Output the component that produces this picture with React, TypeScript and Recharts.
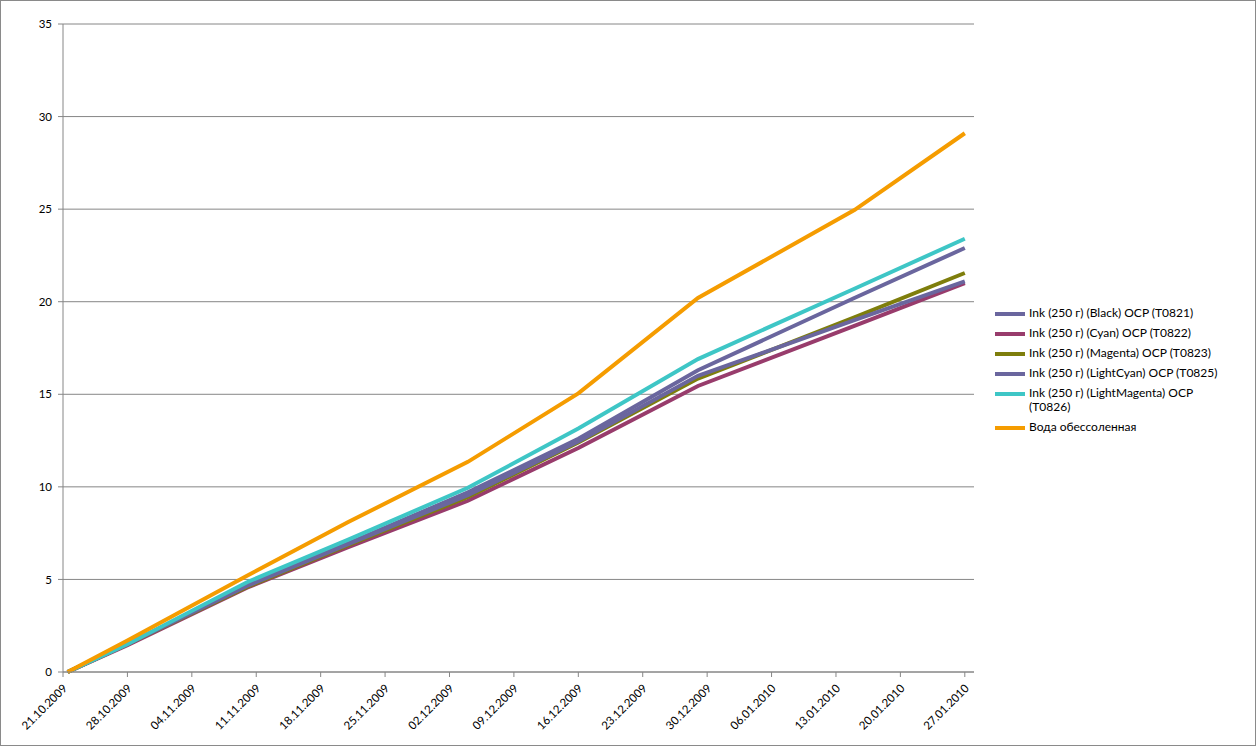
import { LineChart, Line, XAxis, YAxis, CartesianGrid } from "recharts";

// days since 21.10.2009
const days = [0.5, 7, 20, 31, 44, 56, 69, 86, 98];
const black = [0, 1.5, 4.7, 6.95, 9.7, 12.6, 16.3, 20.2, 22.9];
const cyan = [0, 1.45, 4.55, 6.75, 9.25, 12.1, 15.45, 18.7, 21.0];
const magenta = [0, 1.5, 4.6, 6.85, 9.45, 12.4, 15.85, 19.15, 21.55];
const lightCyan = [0, 1.5, 4.65, 6.9, 9.55, 12.45, 16.0, 19.0, 21.1];
const lightMagenta = [0, 1.5, 4.85, 7.15, 9.95, 13.15, 16.9, 20.7, 23.4];
const water = [0, 1.7, 5.2, 8.1, 11.35, 15.05, 20.2, 24.95, 29.1];

const xTicks = [0, 7, 14, 21, 28, 35, 42, 49, 56, 63, 70, 77, 84, 91, 98];
const xLabels = [
  "21.10.2009", "28.10.2009", "04.11.2009", "11.11.2009", "18.11.2009",
  "25.11.2009", "02.12.2009", "09.12.2009", "16.12.2009", "23.12.2009",
  "30.12.2009", "06.01.2010", "13.01.2010", "20.01.2010", "27.01.2010",
];
const yTicks = [0, 5, 10, 15, 20, 25, 30, 35];

const series = [
  { key: "black", name: "Ink (250 г) (Black) OCP (T0821)", color: "#6a669e" },
  { key: "cyan", name: "Ink (250 г) (Cyan) OCP (T0822)", color: "#983c6c" },
  { key: "magenta", name: "Ink (250 г) (Magenta) OCP (T0823)", color: "#7e7e0c" },
  { key: "lightCyan", name: "Ink (250 г) (LightCyan) OCP (T0825)", color: "#6a669e" },
  { key: "lightMagenta", name: "Ink (250 г) (LightMagenta) OCP (T0826)", color: "#3ec6c6" },
  { key: "water", name: "Вода обессоленная", color: "#f59c00" },
];

const data = days.map((d, i) => ({
  day: d,
  black: black[i],
  cyan: cyan[i],
  magenta: magenta[i],
  lightCyan: lightCyan[i],
  lightMagenta: lightMagenta[i],
  water: water[i],
}));

const FONT = "Lato, 'Liberation Sans', sans-serif";

const DateTick = ({ x, y, payload }: any) => {
  const label = xLabels[xTicks.indexOf(payload.value)] ?? "";
  return (
    <text
      x={x + 5}
      y={y + 10}
      textAnchor="end"
      fontSize={11.5}
      fontFamily={FONT}
      fill="#000"
      transform={`rotate(-45, ${x + 5}, ${y + 10})`}
    >
      {label}
    </text>
  );
};

export default function App() {
  return (
    <div
      style={{
        position: "absolute", left: 0, top: 0, width: 1256, height: 746,
        border: "1px solid #8a8a8a", boxSizing: "border-box", background: "#fff",
      }}
    >
      <LineChart
        width={1254}
        height={744}
        data={data}
        margin={{ top: 23, right: 281, bottom: 0, left: 0 }}
      >
        <CartesianGrid vertical={false} stroke="#868686" strokeWidth={1} />
        <XAxis
          dataKey="day"
          type="number"
          domain={[0, 99]}
          ticks={xTicks}
          interval={0}
          height={73}
          tick={<DateTick />}
          tickSize={5}
          stroke="#868686"
          allowDataOverflow
        />
        <YAxis
          domain={[0, 35]}
          ticks={yTicks}
          width={62}
          tickSize={5}
          tickMargin={6}
          stroke="#868686"
          tick={{ fontSize: 11.5, fill: "#000", fontFamily: FONT }}
        />
        {series.map((s) => (
          <Line
            key={s.key}
            type="linear"
            dataKey={s.key}
            name={s.name}
            stroke={s.color}
            strokeWidth={4}
            dot={false}
            isAnimationActive={false}
          />
        ))}
      </LineChart>
      <div
        style={{
          position: "absolute", left: 994, top: 305, fontFamily: FONT,
          fontSize: 12, color: "#000",
        }}
      >
        {series.map((s) => (
          <div key={s.key} style={{ display: "flex", alignItems: "flex-start", marginBottom: 6 }}>
            <span
              style={{
                display: "inline-block", width: 30, height: 4, background: s.color,
                marginTop: 6, marginRight: 4, flexShrink: 0,
              }}
            />
            <span style={{ lineHeight: "14px", width: 205 }}>{s.name}</span>
          </div>
        ))}
      </div>
    </div>
  );
}
